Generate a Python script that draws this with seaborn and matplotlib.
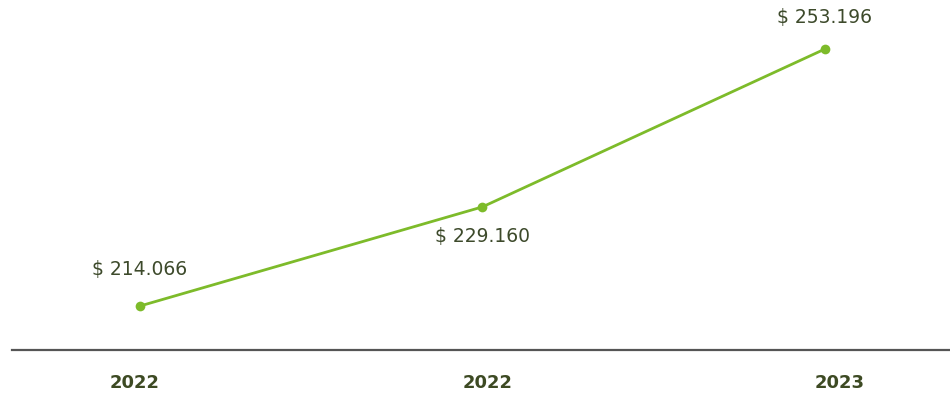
import matplotlib
matplotlib.use("Agg")
import matplotlib.pyplot as plt
import matplotlib.transforms as mtransforms
import seaborn as sns
import pandas as pd

years = ["2022", "2022", "2023"]
values = [214066, 229160, 253196]
labels = ["$ 214.066", "$ 229.160", "$ 253.196"]
label_offsets = [26.5, -21.5, 22.5]
tick_shift_px = [-5, 5, 15]

sns.set_theme(style="white")
plt.rcParams['font.family'] = ['DejaVu Sans']

df = pd.DataFrame({"pos": list(range(len(years))), "value": values})

fig = plt.figure(figsize=(9.5, 3.99), dpi=100)
ax = fig.add_axes([12/950, 49/399, 938/950, 350/399])

sns.lineplot(data=df, x="pos", y="value", ax=ax, color="#7dbb2a", linewidth=2,
             marker="o", markersize=7, markeredgewidth=0, markerfacecolor="#7dbb2a")

for x, y, t, dy in zip(df["pos"], df["value"], labels, label_offsets):
    ax.annotate(t, (x, y), xytext=(0, dy), textcoords="offset points",
                ha="center", va="center", fontsize=13.5, color="#3d4a2b")

ax.set_xlim(-0.3737, 2.365)
ax.set_ylim(207367, 260656)
ax.set_xticks(df["pos"])
ax.set_xticklabels(years, fontsize=13, fontweight="bold", color="#3d4a23")
ax.tick_params(axis="x", length=0, pad=17)
for lab, sh in zip(ax.get_xticklabels(), tick_shift_px):
    lab.set_transform(lab.get_transform() +
                      mtransforms.ScaledTranslation(sh / 100, 0, fig.dpi_scale_trans))
ax.set_yticks([])
ax.set_xlabel("")
ax.set_ylabel("")
for s in ["top", "left", "right"]:
    ax.spines[s].set_visible(False)
ax.spines["bottom"].set_color("#555555")
ax.spines["bottom"].set_linewidth(1.6)

fig.savefig("out.png", dpi=100)
